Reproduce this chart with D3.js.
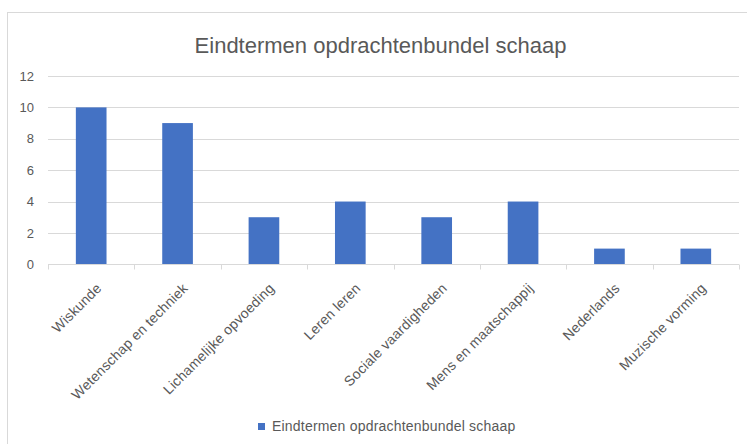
<!DOCTYPE html>
<html>
<head>
<meta charset="utf-8">
<script src="https://cdn.jsdelivr.net/npm/d3@7"></script>
<style>
  body { margin: 0; background: #fff; }
  text { font-family: "Liberation Sans", Arial, sans-serif; fill: #595959; }
</style>
</head>
<body>
<div class="chart"></div>
<script>
// data
var categories = ["Wiskunde", "Wetenschap en techniek", "Lichamelijke opvoeding", "Leren leren",
    "Sociale vaardigheden", "Mens en maatschappij", "Nederlands", "Muzische vorming"];
var values = [10, 9, 3, 4, 3, 4, 1, 1];
var yTicks = [0, 2, 4, 6, 8, 10, 12];
var seriesName = "Eindtermen opdrachtenbundel schaap";
var chartTitle = "Eindtermen opdrachtenbundel schaap";

var svgWidth = 747;
var svgHeight = 444;

var plot = { left: 48, right: 739, top: 76, bottom: 264.3 };

var svg = d3.select(".chart")
    .append("svg")
    .attr("width", svgWidth)
    .attr("height", svgHeight);

// chart frame
svg.append("rect")
    .attr("x", 7.5)
    .attr("y", 12.5)
    .attr("width", 780)
    .attr("height", 460)
    .attr("fill", "#fff")
    .attr("stroke", "#d9d9d9");

svg.append("text")
    .attr("x", 380.5)
    .attr("y", 53)
    .attr("text-anchor", "middle")
    .style("font-size", "22px")
    .text(chartTitle);

var x = d3.scaleBand()
    .domain(categories)
    .range([plot.left, plot.right])
    .paddingInner(0.645)
    .paddingOuter(0.3225);

var y = d3.scaleLinear()
    .domain([0, 12])
    .range([plot.bottom, plot.top]);

// gridlines
svg.append("g")
    .selectAll("line")
    .data(yTicks.slice(1))
    .enter()
    .append("line")
    .attr("x1", plot.left)
    .attr("x2", plot.right)
    .attr("y1", d => Math.round(y(d)) + 0.5)
    .attr("y2", d => Math.round(y(d)) + 0.5)
    .attr("stroke", "#d9d9d9");

// y axis labels
var leftAxis = d3.axisLeft(y).tickValues(yTicks).tickSize(0).tickPadding(0);
var yAxis = svg.append("g")
    .attr("transform", `translate(34, 0)`)
    .call(leftAxis);
yAxis.select(".domain").remove();
yAxis.selectAll("text")
    .style("font-size", "13px")
    .attr("fill", "#595959")
    .style("font-family", "'Liberation Sans', Arial, sans-serif");

// bars
svg.append("g")
    .selectAll("rect")
    .data(values)
    .enter()
    .append("rect")
    .attr("x", (d, i) => x(categories[i]))
    .attr("y", d => y(d))
    .attr("width", x.bandwidth())
    .attr("height", d => y(0) - y(d))
    .attr("fill", "#4472c4");

// x axis line + boundary ticks
var step = x.step();
var bottomY = Math.round(y(0)) + 0.5;
svg.append("line")
    .attr("x1", plot.left)
    .attr("x2", plot.right)
    .attr("y1", bottomY)
    .attr("y2", bottomY)
    .attr("stroke", "#d9d9d9");

svg.append("g")
    .selectAll("line")
    .data(d3.range(categories.length + 1))
    .enter()
    .append("line")
    .attr("x1", i => Math.round(plot.left + i * step) + 0.5)
    .attr("x2", i => Math.round(plot.left + i * step) + 0.5)
    .attr("y1", bottomY)
    .attr("y2", bottomY + 5)
    .attr("stroke", "#d9d9d9");

// rotated category labels
svg.append("g")
    .selectAll("text")
    .data(categories)
    .enter()
    .append("text")
    .attr("transform", d => `translate(${x(d) + x.bandwidth() / 2 + 4}, 282) rotate(-45)`)
    .attr("text-anchor", "end")
    .attr("dy", "0.72em")
    .style("font-size", "14px")
    .style("letter-spacing", "0.2px")
    .text(d => d);

// legend
var legend = svg.append("g");
legend.append("rect")
    .attr("x", 258)
    .attr("y", 423)
    .attr("width", 7)
    .attr("height", 7)
    .attr("fill", "#4472c4");
legend.append("text")
    .attr("x", 272)
    .attr("y", 431)
    .style("font-size", "14px")
    .style("letter-spacing", "0.2px")
    .text(seriesName);
</script>
</body>
</html>
